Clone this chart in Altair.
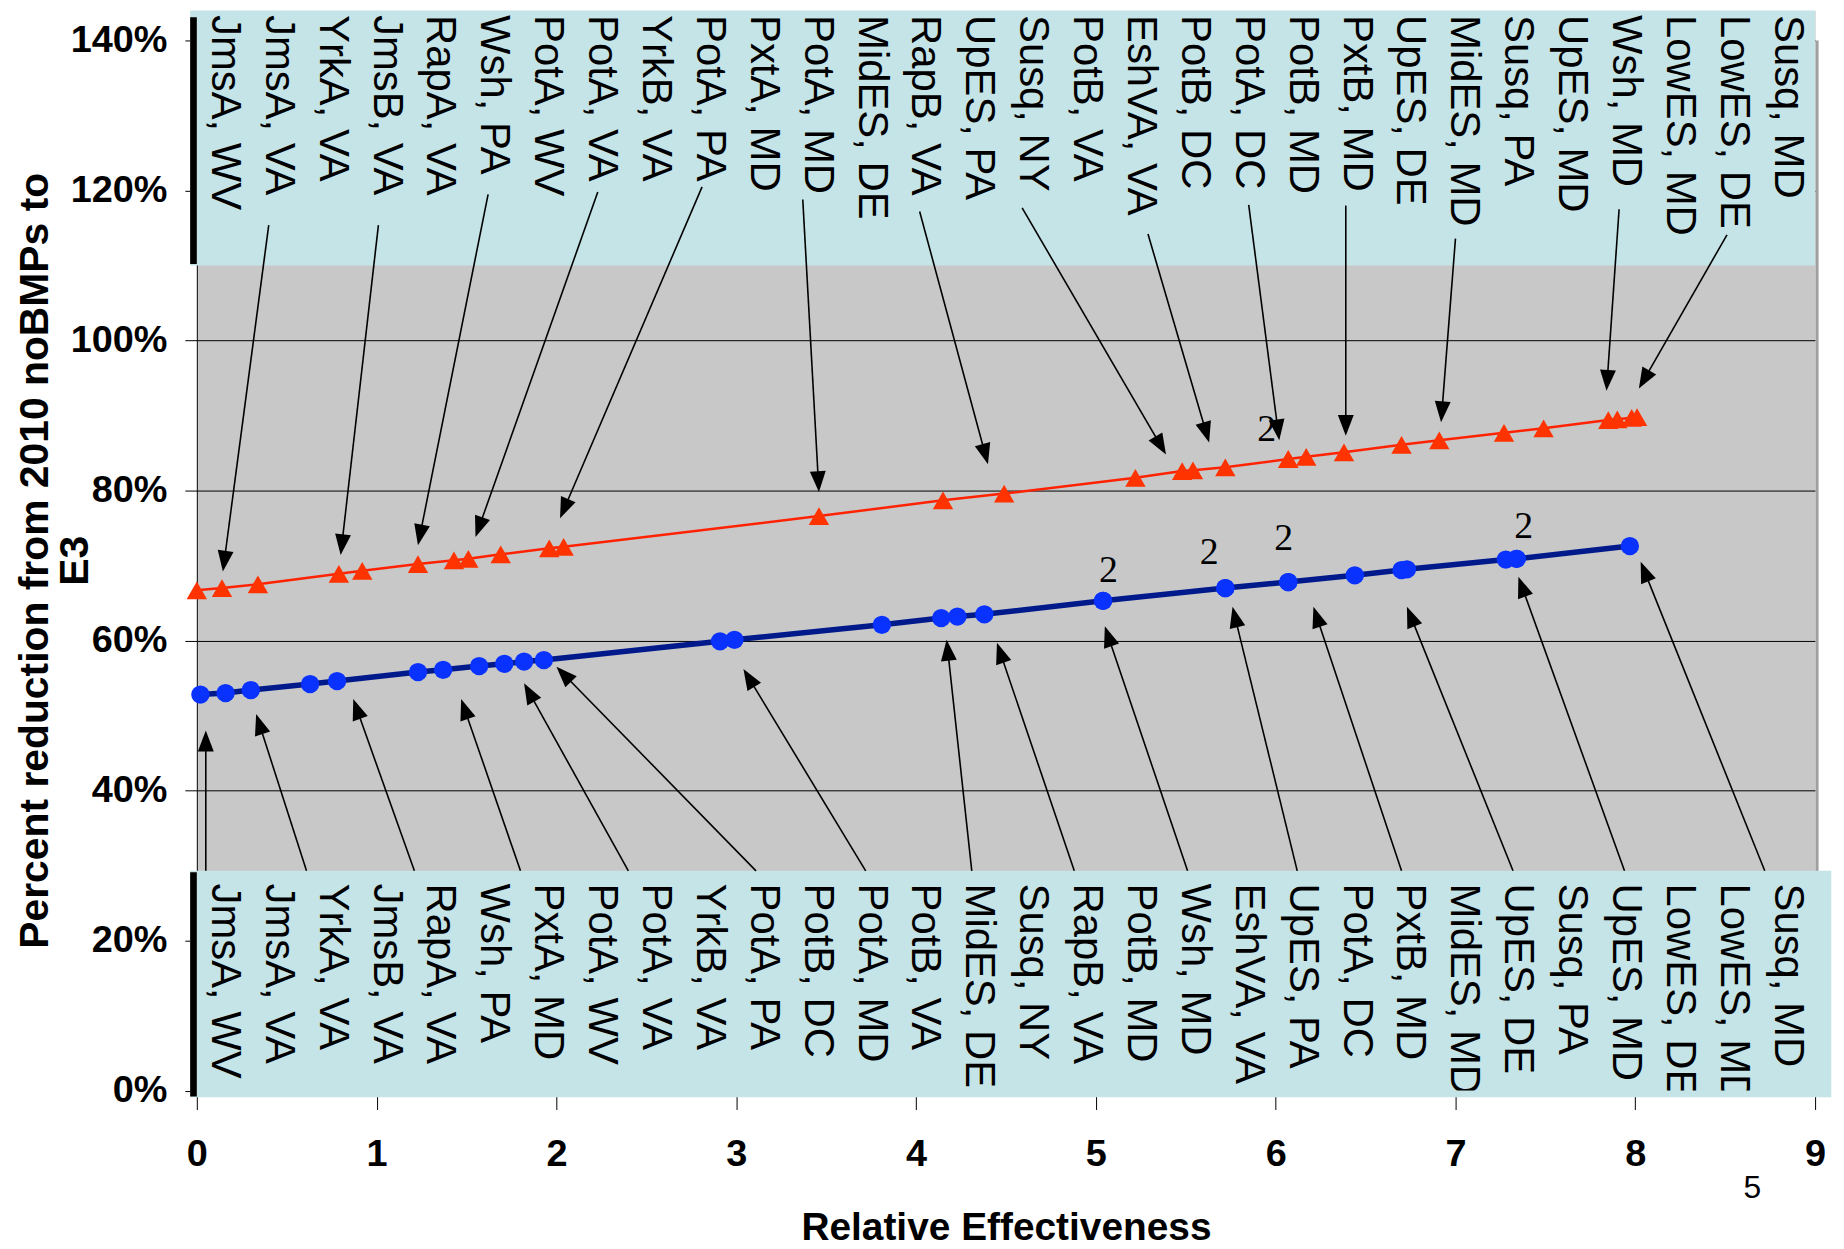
import math
import altair as alt
import pandas as pd

# ---------------- data ----------------
red_x = [0.00, 0.14, 0.34, 0.79, 0.92, 1.23, 1.43, 1.51, 1.69, 1.96, 2.04, 3.46, 4.15, 4.49, 5.22,
         5.48, 5.54, 5.72, 6.07, 6.07, 6.17, 6.38, 6.70, 6.91, 7.27, 7.49, 7.85, 7.90, 7.98, 8.01]
red_y = [66.7, 67.0, 67.5, 68.9, 69.3, 70.2, 70.7, 70.9, 71.5, 72.3, 72.5, 76.6, 78.7, 79.6, 81.7,
         82.6, 82.7, 83.1, 84.2, 84.2, 84.5, 85.1, 86.1, 86.7, 87.7, 88.3, 89.4, 89.5, 89.7, 89.8]

blue_x = [0.02, 0.16, 0.30, 0.63, 0.78, 1.23, 1.37, 1.57, 1.71, 1.82, 1.93, 2.91, 2.99, 3.81, 4.14,
          4.23, 4.38, 5.04, 5.04, 5.72, 5.72, 6.07, 6.07, 6.44, 6.70, 6.73, 7.28, 7.34, 7.34, 7.97]
blue_y = [52.8, 53.0, 53.4, 54.2, 54.6, 55.8, 56.1, 56.6, 56.9, 57.2, 57.4, 59.9, 60.1, 62.1, 63.0,
          63.2, 63.5, 65.3, 65.3, 67.0, 67.0, 67.8, 67.8, 68.7, 69.4, 69.5, 70.8, 70.9, 70.9, 72.6]

top_labels = ["JmsA, WV", "JmsA, VA", "YrkA, VA", "JmsB, VA", "RapA, VA", "Wsh, PA", "PotA, WV",
              "PotA, VA", "YrkB, VA", "PotA, PA", "PxtA, MD", "PotA, MD", "MidES, DE", "RapB, VA",
              "UpES, PA", "Susq, NY", "PotB, VA", "EshVA, VA", "PotB, DC", "PotA, DC", "PotB, MD",
              "PxtB, MD", "UpES, DE", "MidES, MD", "Susq, PA", "UpES, MD", "Wsh, MD", "LowES, MD",
              "LowES, DE", "Susq, MD"]
bottom_labels = ["JmsA, WV", "JmsA, VA", "YrkA, VA", "JmsB, VA", "RapA, VA", "Wsh, PA", "PxtA, MD",
                 "PotA, WV", "PotA, VA", "YrkB, VA", "PotA, PA", "PotB, DC", "PotA, MD", "PotB, VA",
                 "MidES, DE", "Susq, NY", "RapB, VA", "PotB, MD", "Wsh, MD", "EshVA, VA", "UpES, PA",
                 "PotA, DC", "PxtB, MD", "MidES, MD", "UpES, DE", "Susq, PA", "UpES, MD", "LowES, DE",
                 "LowES, MD", "Susq, MD"]

# arrows from the upper labels down to the triangles
top_arrow_start_x = [0.40, 1.01, 1.62, 2.23, 2.81, 3.37, 4.02, 4.59, 5.29, 5.85, 6.39, 7.00, 7.91, 8.51]
top_arrow_start_y = [115.4, 115.4, 119.5, 119.8, 120.5, 118.8, 117.2, 117.7, 114.2, 118.1, 118.0, 113.6, 117.5, 114.1]
top_arrow_tip_x = [0.145, 0.80, 1.23, 1.55, 2.02, 3.46, 4.40, 5.39, 5.63, 6.02, 6.39, 6.92, 7.84, 8.02]
top_arrow_tip_y = [69.2, 71.4, 72.7, 73.8, 76.3, 79.8, 83.5, 84.8, 86.4, 86.7, 87.3, 89.1, 93.3, 93.6]

# arrows from the lower labels up to the circles
bot_arrow_start_x = [0.05, 0.61, 1.21, 1.80, 2.40, 3.11, 3.72, 4.31, 4.88, 5.51, 6.12, 6.70, 7.32, 7.94, 8.72]
bot_arrow_start_y = [29.3] * 15
bot_arrow_tip_x = [0.05, 0.33, 0.87, 1.47, 1.82, 2.00, 3.04, 4.17, 4.45, 5.05, 5.76, 6.21, 6.73, 7.35, 8.03]
bot_arrow_tip_y = [48.0, 50.2, 52.2, 52.2, 54.3, 56.5, 56.2, 60.1, 59.7, 61.9, 64.5, 64.5, 64.5, 68.5, 70.5]

# "2" markers for overlapping points
two_x = [5.95, 5.07, 5.63, 6.045, 7.38]
two_y = [88.1, 69.3, 71.7, 73.6, 75.1]

x_ticks = list(range(10))
y_ticks = [0, 20, 40, 60, 80, 100, 120, 140]

# ---------------- layout ----------------
W, H = 1625, 1084.5
XMAX, YMAX = 9, 144
px_x, px_y = W / XMAX, H / YMAX
HEAD = 21  # arrowhead length px

FONT = "Liberation Sans, Arial, sans-serif"

def arrow_frames(sx, sy, tx, ty):
    shafts, heads = [], []
    for a, b, c, d in zip(sx, sy, tx, ty):
        dx = (c - a) * px_x
        dy = -(d - b) * px_y
        n = math.hypot(dx, dy)
        ux, uy = dx / n, dy / n
        bx = c - HEAD * 0.8 * ux / px_x
        by = d + HEAD * 0.8 * uy / px_y
        ang = math.degrees(math.atan2(dx, -dy)) % 360
        shafts.append({"x": a, "y": b, "x2": bx, "y2": by})
        heads.append({"x": c, "y": d, "angle": ang})
    return shafts, heads

ts, th = arrow_frames(top_arrow_start_x, top_arrow_start_y, top_arrow_tip_x, top_arrow_tip_y)
bs, bh = arrow_frames(bot_arrow_start_x, bot_arrow_start_y, bot_arrow_tip_x, bot_arrow_tip_y)
shaft_df = pd.DataFrame(ts + bs)
head_df = pd.DataFrame(th + bh)

red_df = pd.DataFrame({"x": red_x, "y": red_y})
blue_df = pd.DataFrame({"x": blue_x, "y": blue_y})

lab_x = [0.156 + 0.2997 * i for i in range(30)]
top_lab_df = pd.DataFrame({"x": lab_x, "y": [143.4] * 30, "t": top_labels})
bot_lab_df = pd.DataFrame({"x": lab_x, "y": [27.6] * 30, "t": bottom_labels})

band_df = pd.DataFrame({"x": [-0.037, -0.037], "x2": [9.0, 9.09], "y": [110.0, -0.9], "y2": [144.0, 29.3]})
bar_df = pd.DataFrame({"x": [-0.037, -0.037], "x2": [0.0, 0.0], "y": [110.2, -0.8], "y2": [143.1, 29.1]})
two_df = pd.DataFrame({"x": two_x, "y": two_y, "t": ["2"] * len(two_x)})
page_df = pd.DataFrame({"x": [8.651], "y": [-12.95], "t": ["5"]})
shadow_df = pd.DataFrame({"x": [9.0], "y": [0.0], "y2": [140.0]})

xs = alt.Scale(domain=[0, XMAX], nice=False, zero=False)
ys = alt.Scale(domain=[0, YMAX], nice=False, zero=False)

x_axis = alt.Axis(values=x_ticks, format="d", labelFont=FONT, labelFontWeight="bold", labelFontSize=38,
                  labelColor="black", labelBaseline="middle", labelFlush=False, tickSize=19,
                  tickColor="black", tickWidth=1, labelPadding=45, domain=False, grid=False,
                  title="Relative Effectiveness", titleFont=FONT, titleFontSize=39, titleFontWeight="bold",
                  titleColor="black", titleBaseline="alphabetic", titleY=150)
y_axis = alt.Axis(values=y_ticks, labelExpr="datum.value + '%'", labelFont=FONT, labelFontWeight="bold",
                  labelFontSize=38, labelColor="black", labelFlush=False, tickSize=12, tickColor="black",
                  tickWidth=1, labelPadding=18, domain=True, domainColor="black", domainWidth=1,
                  grid=True, gridColor="black", gridWidth=1, gridOpacity=1,
                  title=["Percent reduction from 2010 noBMPs to", "E3"], titleFont=FONT, titleFontSize=41,
                  titleFontWeight="bold", titleColor="black", titleAngle=270, titleAlign="center",
                  titleBaseline="alphabetic", titleX=-150, titleY=552, titleLineHeight=40)

X = alt.X("x:Q", scale=xs, axis=x_axis)
Y = alt.Y("y:Q", scale=ys, axis=y_axis)

shadow = alt.Chart(shadow_df).mark_rule(color="#A0A0A0", strokeWidth=3, xOffset=2).encode(
    x=X, y=Y, y2="y2:Q")

red_line = alt.Chart(red_df).mark_line(color="#FF2200", strokeWidth=2.5).encode(x=X, y=Y, order="x:Q")
blue_line = alt.Chart(blue_df).mark_line(color="#001A8C", strokeWidth=5.5).encode(x=X, y=Y, order="x:Q")
red_pts = alt.Chart(red_df).mark_point(shape="triangle-up", filled=True, size=420, color="#FF3300",
                                         opacity=1).encode(x=X, y=Y)
blue_pts = alt.Chart(blue_df).mark_point(shape="circle", filled=True, size=340, color="#0A32FF",
                                           opacity=1).encode(x=X, y=Y)

bands = alt.Chart(band_df).mark_rect(color="#C4E4E8").encode(x=X, x2="x2:Q", y=Y, y2="y2:Q")
bars = alt.Chart(bar_df).mark_rect(color="black").encode(x=X, x2="x2:Q", y=Y, y2="y2:Q")

top_text = alt.Chart(top_lab_df).mark_text(angle=90, align="left", baseline="middle", font=FONT,
                                             fontSize=42, color="black").encode(x=X, y=Y, text="t:N")
bot_text = alt.Chart(bot_lab_df).mark_text(angle=90, align="left", baseline="middle", font=FONT,
                                             fontSize=42, color="black", clip=True).encode(
    x=X, y=Y, text="t:N")

shafts = alt.Chart(shaft_df).mark_rule(color="black", strokeWidth=1.6).encode(
    x=X, y=Y, x2="x2:Q", y2="y2:Q")
heads = alt.Chart(head_df).mark_point(shape="M0,0L-0.38,1L0.38,1Z", filled=True, size=4 * HEAD * HEAD,
                                        color="black", opacity=1).encode(
    x=X, y=Y, angle=alt.Angle("angle:Q", scale=None))

twos = alt.Chart(two_df).mark_text(font="Liberation Serif, Times New Roman, serif", fontSize=38,
                                     color="black", baseline="middle", align="center").encode(
    x=X, y=Y, text="t:N")
page = alt.Chart(page_df).mark_text(font=FONT, fontSize=32, color="black", baseline="middle",
                                      align="center").encode(x=X, y=Y, text="t:N")

chart = alt.layer(shadow, red_line, blue_line, red_pts, blue_pts, bands, bars, top_text, bot_text,
                  shafts, heads, twos, page).properties(
    width=W, height=H, autosize=alt.AutoSizeParams(type="none"),
    padding={"left": 189.6, "top": 0, "right": 21, "bottom": 155},
    background="white",
).configure_view(fill="#C8C8C8", strokeOpacity=0)

chart.save("out.html", embed_options={"renderer": "svg", "actions": False})
